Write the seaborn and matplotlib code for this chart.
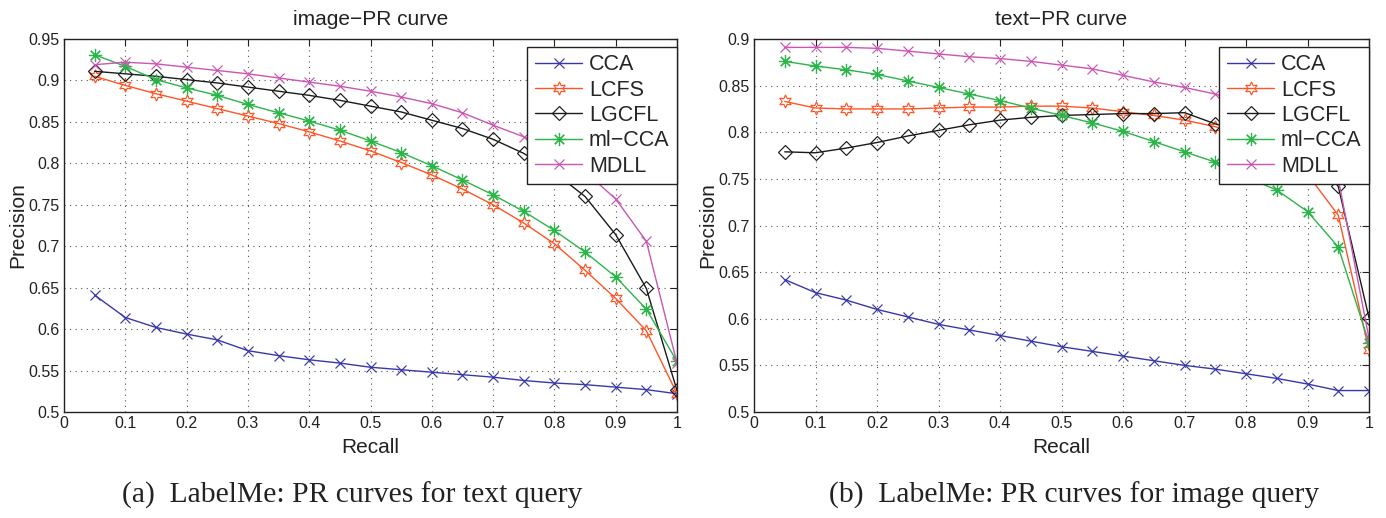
import numpy as np
import pandas as pd
import matplotlib
matplotlib.use("Agg")
import matplotlib.pyplot as plt
import seaborn as sns

# ---------------- data ----------------
recall = [0.05, 0.10, 0.15, 0.20, 0.25, 0.30, 0.35, 0.40, 0.45, 0.50,
          0.55, 0.60, 0.65, 0.70, 0.75, 0.80, 0.85, 0.90, 0.95, 1.00]

methods = ["CCA", "LCFS", "LGCFL", "ml\u2212CCA", "MDLL"]

# (a) image-PR curve (text query)
img_cca = [0.641, 0.614, 0.602, 0.594, 0.587, 0.574, 0.568, 0.563, 0.559, 0.554,
           0.551, 0.548, 0.545, 0.542, 0.538, 0.535, 0.533, 0.530, 0.527, 0.522]
img_lcfs = [0.905, 0.894, 0.884, 0.875, 0.866, 0.857, 0.848, 0.838, 0.827, 0.815,
            0.801, 0.786, 0.769, 0.750, 0.728, 0.703, 0.671, 0.637, 0.598, 0.522]
img_lgcfl = [0.911, 0.908, 0.905, 0.901, 0.897, 0.892, 0.887, 0.882, 0.876, 0.869,
             0.862, 0.852, 0.842, 0.829, 0.812, 0.789, 0.760, 0.714, 0.649, 0.526]
img_mlcca = [0.931, 0.917, 0.901, 0.891, 0.882, 0.871, 0.861, 0.851, 0.840, 0.827,
             0.813, 0.797, 0.780, 0.762, 0.742, 0.719, 0.693, 0.663, 0.624, 0.561]
img_mdll = [0.919, 0.922, 0.920, 0.916, 0.912, 0.908, 0.903, 0.898, 0.893, 0.887,
            0.880, 0.872, 0.861, 0.846, 0.832, 0.814, 0.790, 0.757, 0.706, 0.559]

# (b) text-PR curve (image query)
txt_cca = [0.642, 0.628, 0.620, 0.610, 0.602, 0.594, 0.588, 0.582, 0.576, 0.570,
           0.565, 0.560, 0.555, 0.550, 0.546, 0.541, 0.536, 0.530, 0.523, 0.523]
txt_lcfs = [0.833, 0.826, 0.825, 0.825, 0.825, 0.826, 0.827, 0.827, 0.828, 0.828,
            0.826, 0.822, 0.818, 0.813, 0.806, 0.795, 0.778, 0.755, 0.711, 0.566]
txt_lgcfl = [0.779, 0.778, 0.783, 0.789, 0.796, 0.802, 0.808, 0.813, 0.816, 0.818,
             0.819, 0.820, 0.820, 0.821, 0.809, 0.800, 0.790, 0.780, 0.742, 0.601]
txt_mlcca = [0.876, 0.871, 0.867, 0.862, 0.855, 0.848, 0.841, 0.834, 0.826, 0.818,
             0.810, 0.801, 0.790, 0.779, 0.768, 0.752, 0.738, 0.715, 0.677, 0.574]
txt_mdll = [0.891, 0.891, 0.891, 0.890, 0.887, 0.884, 0.881, 0.879, 0.876, 0.872,
            0.868, 0.861, 0.854, 0.848, 0.841, 0.830, 0.815, 0.790, 0.750, 0.579]

left_yticks = [0.5, 0.55, 0.6, 0.65, 0.7, 0.75, 0.8, 0.85, 0.9, 0.95]
right_yticks = [0.5, 0.55, 0.6, 0.65, 0.7, 0.75, 0.8, 0.85, 0.9]
xticks = [0, 0.1, 0.2, 0.3, 0.4, 0.5, 0.6, 0.7, 0.8, 0.9, 1]
xtick_labels = ["0", "0.1", "0.2", "0.3", "0.4", "0.5", "0.6", "0.7", "0.8", "0.9", "1"]

titles = ["image\u2212PR curve", "text\u2212PR curve"]
captions = ["(a)  LabelMe: PR curves for text query",
            "(b)  LabelMe: PR curves for image query"]

# ---------------- style ----------------
sns.set_theme(style="white")
plt.rcParams["font.family"] = ["Liberation Sans", "DejaVu Sans"]
plt.rcParams["mathtext.default"] = "regular"

colors = {"CCA": "#3838a8", "LCFS": "#ff5526", "LGCFL": "#1a1a1a",
          "ml\u2212CCA": "#2bb548", "MDLL": "#cc55b4"}
markers = {"CCA": "x", "LCFS": (6, 1, 0), "LGCFL": "D",
           "ml\u2212CCA": (8, 2, 0), "MDLL": "x"}
msizes = {"CCA": 6.5, "LCFS": 9.5, "LGCFL": 7, "ml\u2212CCA": 9.5, "MDLL": 6.5}
fills = {"CCA": True, "LCFS": False, "LGCFL": False, "ml\u2212CCA": True, "MDLL": True}


def make_df(cols):
    rows = []
    for m, vals in zip(methods, cols):
        for r, v in zip(recall, vals):
            rows.append({"Recall": r, "Precision": v, "method": m})
    return pd.DataFrame(rows)


df_img = make_df([img_cca, img_lcfs, img_lgcfl, img_mlcca, img_mdll])
df_txt = make_df([txt_cca, txt_lcfs, txt_lgcfl, txt_mlcca, txt_mdll])

W, H = 1386, 518
fig = plt.figure(figsize=(W / 100, H / 100), dpi=100)
ax1 = fig.add_axes([64 / W, (H - 412) / H, 613 / W, 373 / H])
ax2 = fig.add_axes([754 / W, (H - 412) / H, 615 / W, 373 / H])

panels = [(ax1, df_img, left_yticks, (0.5, 0.95)),
          (ax2, df_txt, right_yticks, (0.5, 0.9))]

for i, (ax, df, yt, ylim) in enumerate(panels):
    for m in methods:
        sub = df[df["method"] == m]
        kw = dict(color=colors[m], marker=markers[m], markersize=msizes[m],
                  linewidth=1.0, markeredgewidth=0.85, label=m)
        if not fills[m]:
            kw["markerfacecolor"] = "none"
        kw["markeredgecolor"] = colors[m]
        sns.lineplot(data=sub, x="Recall", y="Precision", ax=ax, **kw)
    ax.set_xlim(0, 1)
    ax.set_ylim(*ylim)
    ax.set_xticks(xticks)
    ax.set_xticklabels(xtick_labels)
    ax.set_yticks(yt)
    ax.set_yticklabels([("%g" % v) for v in yt])
    ax.tick_params(direction="in", top=True, right=True, length=5, width=0.8,
                   labelsize=11.5, colors="#222222", pad=3)
    ax.grid(True, linestyle=(0, (1, 4)), color="#555555", linewidth=0.8)
    for s in ax.spines.values():
        s.set_visible(True)
        s.set_color("#222222")
        s.set_linewidth(1.0)
    ax.set_xlabel("Recall", fontsize=15, color="#222222", labelpad=5)
    ax.set_ylabel("Precision", fontsize=15, color="#222222", labelpad=1)
    ax.set_title(titles[i], fontsize=15, color="#222222", pad=10)
    leg = ax.legend(loc="upper right", bbox_to_anchor=(1.0, 0.979),
                    borderaxespad=0, fontsize=15.5, handlelength=2.2,
                    handletextpad=0.3, labelspacing=0.2, borderpad=0.35,
                    frameon=True, fancybox=False, framealpha=1.0,
                    edgecolor="#222222")
    leg.get_frame().set_linewidth(1.0)

fig.text(352 / W, 23 / H, captions[0], ha="center", va="center",
         fontsize=21.3, family=["Liberation Serif", "DejaVu Serif"], color="#222222")
fig.text(1074 / W, 23 / H, captions[1], ha="center", va="center",
         fontsize=21.3, family=["Liberation Serif", "DejaVu Serif"], color="#222222")

fig.savefig("out.png", dpi=100, facecolor="white")
